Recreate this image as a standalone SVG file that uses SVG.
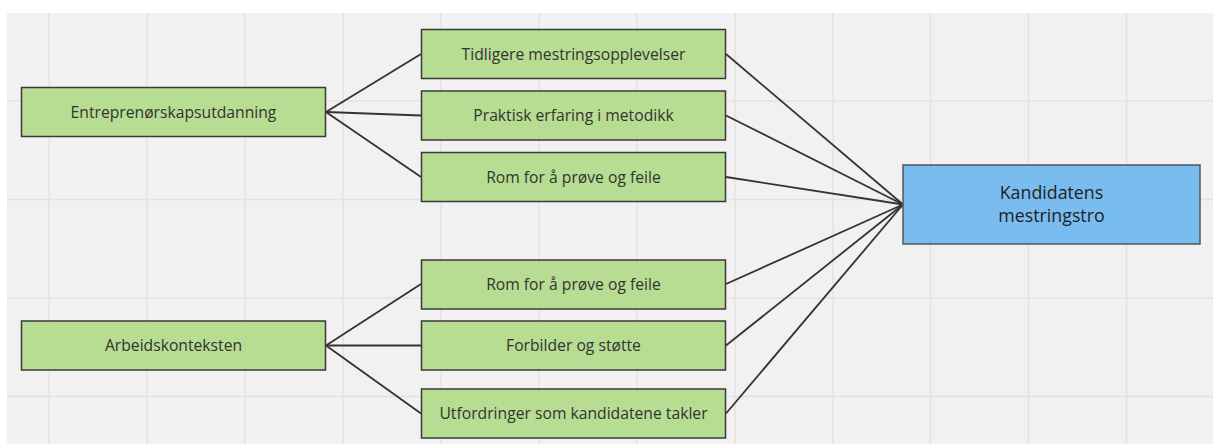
<svg xmlns="http://www.w3.org/2000/svg" width="1213" height="444" viewBox="0 0 1213 444">
<style>
.grid{stroke:#e2e2e2;stroke-width:1.5}
.g{fill:#b2db8b;fill-opacity:0.95;stroke:#3a3a3a;stroke-width:1.5}
.b{fill:#72b8ef;fill-opacity:0.95;stroke:#555;stroke-width:1.5}
.t{font-family:"Open Sans","Liberation Sans",sans-serif;font-size:15.7px;fill:#333;text-anchor:middle}
.tb{font-family:"Open Sans","Liberation Sans",sans-serif;font-size:17.8px;fill:#222;text-anchor:middle}
.c{stroke:#333;stroke-width:1.8;fill:none}
</style>
<rect width="1213" height="444" fill="#ffffff"/>
<rect x="7" y="13" width="1206" height="431" fill="#f1f1f1"/>
<g id="grid">
<line class="grid" x1="49" y1="13" x2="49" y2="444"/>
<line class="grid" x1="147" y1="13" x2="147" y2="444"/>
<line class="grid" x1="245" y1="13" x2="245" y2="444"/>
<line class="grid" x1="343" y1="13" x2="343" y2="444"/>
<line class="grid" x1="441" y1="13" x2="441" y2="444"/>
<line class="grid" x1="539" y1="13" x2="539" y2="444"/>
<line class="grid" x1="637" y1="13" x2="637" y2="444"/>
<line class="grid" x1="735" y1="13" x2="735" y2="444"/>
<line class="grid" x1="833" y1="13" x2="833" y2="444"/>
<line class="grid" x1="930.5" y1="13" x2="930.5" y2="444"/>
<line class="grid" x1="1028.5" y1="13" x2="1028.5" y2="444"/>
<line class="grid" x1="1126.5" y1="13" x2="1126.5" y2="444"/>
<line class="grid" x1="7" y1="101" x2="1213" y2="101"/>
<line class="grid" x1="7" y1="199.5" x2="1213" y2="199.5"/>
<line class="grid" x1="7" y1="298" x2="1213" y2="298"/>
<line class="grid" x1="7" y1="396.5" x2="1213" y2="396.5"/>
</g>
<g id="connectors">
<line class="c" x1="326" y1="112" x2="421" y2="54"/>
<line class="c" x1="326" y1="112" x2="421" y2="115.5"/>
<line class="c" x1="326" y1="112" x2="421" y2="177"/>
<line class="c" x1="326" y1="345.5" x2="421" y2="284"/>
<line class="c" x1="326" y1="345.5" x2="421" y2="345.5"/>
<line class="c" x1="326" y1="345.5" x2="421" y2="413.5"/>
<line class="c" x1="726" y1="54" x2="903" y2="204.5"/>
<line class="c" x1="726" y1="115.5" x2="903" y2="204.5"/>
<line class="c" x1="726" y1="177" x2="903" y2="204.5"/>
<line class="c" x1="726" y1="284" x2="903" y2="204.5"/>
<line class="c" x1="726" y1="345.5" x2="903" y2="204.5"/>
<line class="c" x1="726" y1="413.5" x2="903" y2="204.5"/>
</g>
<g id="n-entre"><rect class="g" x="21.5" y="87.5" width="304" height="49"/><text class="t" x="173.5" y="117.5">Entreprenørskapsutdanning</text></g>
<g id="n-arbeid"><rect class="g" x="21.5" y="321" width="304" height="49"/><text class="t" x="173.5" y="351">Arbeidskonteksten</text></g>
<g id="n-tidligere"><rect class="g" x="421.5" y="29.5" width="304" height="49"/><text class="t" x="573.5" y="59.5">Tidligere mestringsopplevelser</text></g>
<g id="n-praktisk"><rect class="g" x="421.5" y="91" width="304" height="49"/><text class="t" x="573.5" y="121">Praktisk erfaring i metodikk</text></g>
<g id="n-rom1"><rect class="g" x="421.5" y="152.5" width="304" height="49"/><text class="t" x="573.5" y="182.5">Rom for å prøve og feile</text></g>
<g id="n-rom2"><rect class="g" x="421.5" y="260" width="304" height="49"/><text class="t" x="573.5" y="290">Rom for å prøve og feile</text></g>
<g id="n-forbilder"><rect class="g" x="421.5" y="321" width="304" height="49"/><text class="t" x="573.5" y="351">Forbilder og støtte</text></g>
<g id="n-utfordringer"><rect class="g" x="421.5" y="389" width="304" height="49"/><text class="t" x="573.5" y="419">Utfordringer som kandidatene takler</text></g>
<g id="n-kandidat"><rect class="b" x="903" y="165" width="297" height="79"/><text class="tb" x="1051.5" y="198.5">Kandidatens</text><text class="tb" x="1051.5" y="221.5">mestringstro</text></g>
</svg>
